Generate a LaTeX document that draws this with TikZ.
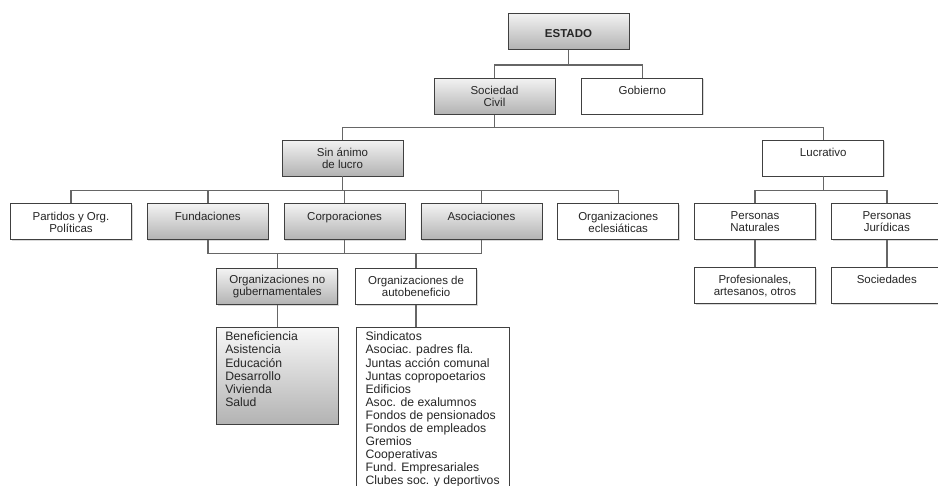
\documentclass[tikz,border=0pt]{standalone}
\usepackage{fontspec}
\setmainfont{Liberation Sans}
\usetikzlibrary{positioning, shadows}

\begin{document}
\begin{tikzpicture}[x=1pt, y=1pt, node distance=15pt]

    % Define style for different elements
    \tikzstyle{caja} = [rectangle, minimum width=121pt, minimum height=36pt, inner sep=2pt, align=center, draw=black!75, line width=0.8pt, text=black!85, font=\fontsize{11.5}{12}\selectfont, drop shadow={shadow xshift=1pt, shadow yshift=-1pt, opacity=0.3}]
    \tikzstyle{gris} = [caja, top color=black!5, bottom color=black!30]
    \tikzstyle{blanco} = [caja, fill=white]
    \tikzstyle{lista} = [rectangle, inner xsep=9pt, inner ysep=4.5pt, draw=black!75, line width=0.8pt, text=black!85, font=\fontsize{12.2}{13.1}\selectfont]
    \tikzstyle{link} = [draw=black!60, line width=1.4pt]

    \useasboundingbox (0,0) rectangle (938,-486);
    \clip (0,0) rectangle (938,-486);

    % Place nodes
    \node (estado) [gris] at (568.5,-31.5) {\mbox{}\\\textbf{ESTADO}};
    \node (sociedad) [gris, below=28pt of estado, xshift=-74pt] {Sociedad\\Civil};
    \node (gobierno) [blanco, right=26pt of sociedad] {Gobierno\\\mbox{}};
    \node (sinanimo) [gris, below=25pt of sociedad, xshift=-152pt] {Sin ánimo\\de lucro};
    \node (lucrativo) [blanco, right=359pt of sinanimo] {Lucrativo\\\mbox{}};
    \node (partidos) [blanco, below=27pt of sinanimo, xshift=-271.5pt] {Partidos y Org.\\Políticas};
    \node (fundaciones) [gris, right=of partidos] {Fundaciones\\\mbox{}};
    \node (corporaciones) [gris, right=of fundaciones] {Corporaciones\\\mbox{}};
    \node (asociaciones) [gris, right=of corporaciones] {Asociaciones\\\mbox{}};
    \node (eclesiasticas) [blanco, right=of asociaciones] {Organizaciones\\eclesiáticas};
    \node (naturales) [blanco, right=of eclesiasticas] {Personas\\Naturales};
    \node (juridicas) [blanco, right=15.5pt of naturales, minimum width=110pt] {Personas\\Jurídicas};
    \node (ong) [gris, below=28pt of fundaciones, xshift=69.5pt] {Organizaciones no\\gubernamentales};
    \node (autobeneficio) [blanco, right=17pt of ong] {Organizaciones de\\autobeneficio};
    \node (profesionales) [blanco, below=27pt of naturales] {Profesionales,\\artesanos, otros};
    \node (sociedades) [blanco, below=27pt of juridicas, minimum width=110pt] {Sociedades\\\mbox{}};
    \node (ayudas) [lista, top color=black!3, bottom color=black!30, below=22pt of ong] {\begin{minipage}[t][88pt][t]{104pt}Beneficiencia\\Asistencia\\Educación\\Desarrollo\\Vivienda\\Salud\end{minipage}};
    \node (gremios) [lista, fill=white, below right=22pt and 1pt of autobeneficio.south west] {\begin{minipage}[t][160pt][t]{135pt}Sindicatos\\Asociac. padres fla.\\Juntas acción comunal\\Juntas copropoetarios\\Edificios\\Asoc. de exalumnos\\Fondos de pensionados\\Fondos de empleados\\Gremios\\Cooperativas\\Fund. Empresariales\\Clubes soc. y deportivos\end{minipage}};

    % Draw connectors
    \coordinate [below=15pt of estado] (j1);
    \draw [link] (estado) -- (j1);
    \draw [link] (sociedad.north) |- (j1) -| (gobierno.north);
    \coordinate [below=13pt of sociedad] (j2);
    \draw [link] (sociedad) -- (j2);
    \draw [link] (sinanimo.north) |- (j2) -| (lucrativo.north);
    \coordinate [below=14pt of sinanimo] (j3);
    \draw [link] (sinanimo) -- (j3);
    \draw [link] (partidos.north) |- (j3) -| (eclesiasticas.north);
    \foreach \n in {fundaciones, corporaciones, asociaciones}
        \draw [link] (\n.north) -- (\n.north |- j3);
    \coordinate [below=14pt of lucrativo] (j4);
    \draw [link] (lucrativo) -- (j4);
    \draw [link] (naturales.north) |- (j4) -| (juridicas.north);
    \coordinate [below=13pt of corporaciones] (j5);
    \draw [link] (corporaciones) -- (j5);
    \draw [link] (fundaciones.south) |- (j5) -| (asociaciones.south);
    \draw [link] (ong.north) -- (ong.north |- j5);
    \draw [link] (autobeneficio.north) -- (autobeneficio.north |- j5);
    \draw [link] (ong) -- (ayudas);
    \draw [link] (autobeneficio.south) -- (autobeneficio.south |- gremios.north);
    \draw [link] (naturales) -- (profesionales);
    \draw [link] (juridicas) -- (sociedades);

\end{tikzpicture}
\end{document}
